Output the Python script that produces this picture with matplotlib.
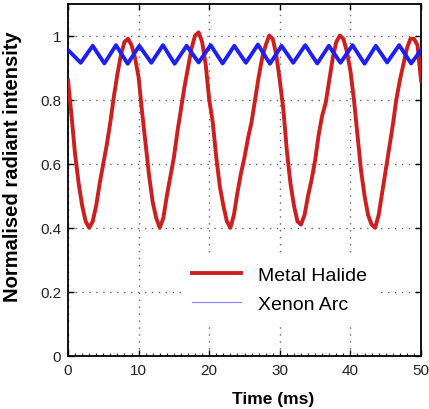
import numpy as np
import matplotlib.pyplot as plt
from matplotlib.lines import Line2D
from matplotlib.ticker import MultipleLocator

plt.rcParams['font.family'] = ['Liberation Sans', 'DejaVu Sans']

# ---------------- data ----------------
halide_t = np.arange(0, 50.01, 0.5)
halide_v = [0.86, 0.75, 0.63, 0.54, 0.47, 0.42, 0.40, 0.42, 0.47, 0.54,
            0.60, 0.66, 0.73, 0.81, 0.88, 0.94, 0.98, 0.99, 0.97, 0.93,
            0.87, 0.76, 0.66, 0.56, 0.48, 0.43, 0.40, 0.43, 0.50, 0.56,
            0.62, 0.70, 0.77, 0.84, 0.90, 0.96, 1.00, 1.01, 0.98, 0.91,
            0.80, 0.73, 0.62, 0.53, 0.47, 0.42, 0.40, 0.44, 0.51, 0.57,
            0.62, 0.68, 0.73, 0.80, 0.87, 0.93, 0.97, 1.00, 0.99, 0.94,
            0.86, 0.77, 0.64, 0.54, 0.47, 0.42, 0.41, 0.44, 0.50, 0.55,
            0.61, 0.69, 0.75, 0.79, 0.86, 0.93, 0.98, 1.00, 0.99, 0.95,
            0.89, 0.80, 0.69, 0.58, 0.50, 0.44, 0.41, 0.40, 0.44, 0.51,
            0.58, 0.65, 0.72, 0.80, 0.86, 0.91, 0.96, 0.99, 0.99, 0.97,
            0.86]

xenon_t = [0.0, 1.8, 3.5, 5.15, 6.8, 8.45, 10.1, 11.8, 13.45, 15.1, 16.8,
           18.5, 20.2, 21.9, 23.55, 25.2, 26.9, 28.6, 30.25, 31.9, 33.6,
           35.3, 36.95, 38.6, 40.3, 42.0, 43.6, 45.2, 46.9, 48.6, 50.0]
xenon_v = [0.955, 0.915, 0.968, 0.913, 0.970, 0.912, 0.968, 0.915, 0.970,
           0.912, 0.968, 0.916, 0.970, 0.913, 0.968, 0.915, 0.972, 0.912,
           0.968, 0.915, 0.970, 0.913, 0.968, 0.915, 0.970, 0.912, 0.968,
           0.916, 0.970, 0.913, 0.955]

red = '#cc1f1f'
blue = '#1e1ef5'

# ---------------- plot ----------------
fig = plt.figure(figsize=(4.29, 4.10), dpi=100)
ax = fig.add_axes([0.1585, 0.1293, 0.8229, 0.8597])

ax.plot(halide_t, halide_v, color=red, lw=2.8, zorder=3)
ax.plot(xenon_t, xenon_v, color=blue, lw=2.8, zorder=4)

ax.set_xlim(0, 50)
ax.set_ylim(0, 1.1)
ax.set_xticks([0, 10, 20, 30, 40, 50])
ax.set_yticks([0, 0.2, 0.4, 0.6, 0.8, 1.0])
ax.set_yticklabels(['0', '0.2', '0.4', '0.6', '0.8', '1'])
ax.xaxis.set_minor_locator(MultipleLocator(1))
ax.tick_params(which='both', direction='in', labelsize=11, colors='black',
               labelcolor='#222222', top=True, right=True, pad=5)
ax.tick_params(which='major', length=4, width=1)
ax.tick_params(which='minor', length=2, width=0.8, top=False)
ax.grid(True, which='major', color='0.4', linestyle=(0, (1, 4)), lw=1)
for s in ax.spines.values():
    s.set_linewidth(1.3)

ax.set_xlabel('Time (ms)', fontsize=12.5, fontweight='bold')
ax.xaxis.set_label_coords(0.58, -0.098)
ax.set_ylabel('Normalised radiant intensity', fontsize=14.5, fontweight='bold')
ax.yaxis.set_label_coords(-0.13, 0.54)

handles = [Line2D([], [], color=red, lw=2.8),
           Line2D([], [], color='#8888ff', lw=0.9)]
leg = ax.legend(handles, ['Metal Halide', 'Xenon Arc'], loc='center',
                bbox_to_anchor=(0.6, 0.188), fontsize=14, frameon=True,
                handlelength=2.5, handletextpad=0.88, labelspacing=0.6,
                borderpad=0.6, fancybox=False)
leg.get_frame().set_edgecolor('none')
leg.get_frame().set_facecolor('white')
leg.get_frame().set_alpha(1)
leg.set_zorder(5)

fig.savefig('out.png', dpi=100)
